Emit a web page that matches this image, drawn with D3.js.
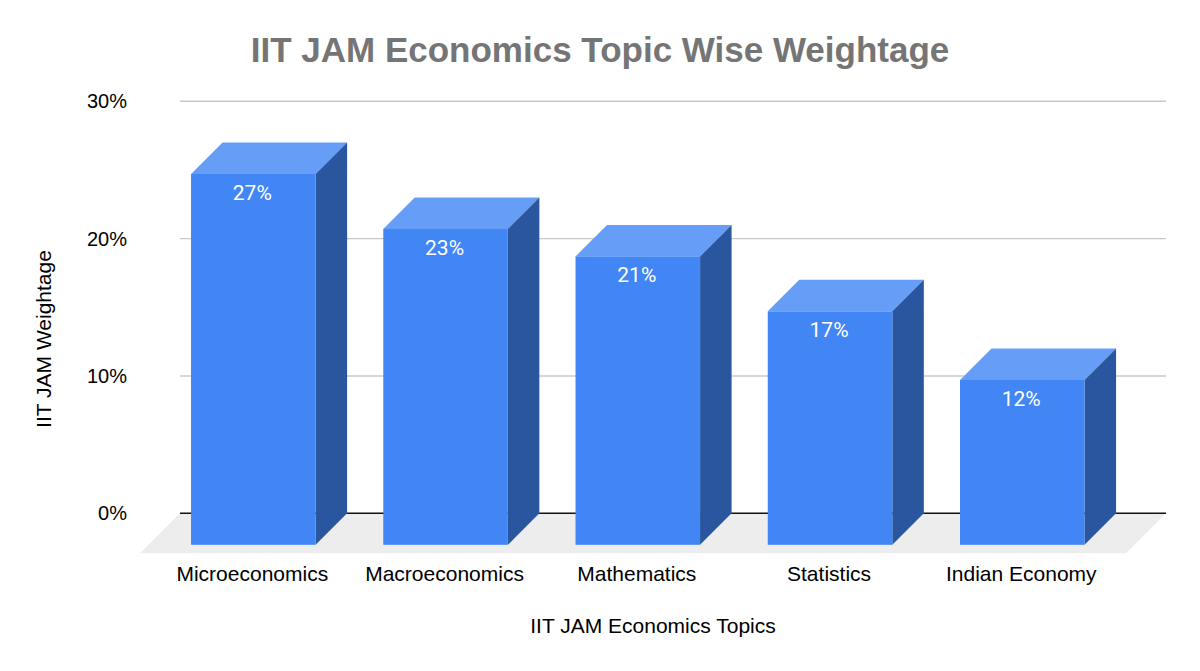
<!DOCTYPE html>
<html>
<head>
<meta charset="utf-8">
<script src="https://cdn.jsdelivr.net/npm/d3@7"></script>
<style>
  html, body { margin: 0; padding: 0; background: #fff; }
  svg { display: block; }
  text { font-family: "Liberation Sans", Arial, sans-serif; }
  .y-axis .domain, .x-axis .domain, .x-axis line, .y-axis line { display: none; }
</style>
</head>
<body>
<div id="chart"></div>
<script>
const topics = ["Microeconomics", "Macroeconomics", "Mathematics", "Statistics", "Indian Economy"];
const weightage = [27, 23, 21, 17, 12];
const yTicks = [0, 10, 20, 30];

const width = 1200, height = 671;
const depth = 31.5; // 3d offset of the bars and floor
const gridLeft = 180, gridRight = 1166;

const svg = d3.select("#chart").append("svg")
    .attr("width", width)
    .attr("height", height);

const x = d3.scaleBand()
    .domain(topics)
    .range([157.2, 1118.4])
    .paddingInner(0.352)
    .paddingOuter(0.176);

const y = d3.scaleLinear()
    .domain([0, 30])
    .range([513.3, 101.3]);

// floor
svg.append("polygon")
    .attr("fill", "#ededed")
    .attr("points", [
        [gridLeft, y(0)],
        [gridRight, y(0)],
        [gridRight - depth - 8.5, y(0) + depth + 8.5],
        [gridLeft - depth - 8.5, y(0) + depth + 8.5]
    ].join(" "));

// gridlines
svg.append("g").selectAll("line")
    .data(yTicks)
    .enter().append("line")
    .attr("x1", gridLeft)
    .attr("x2", gridRight)
    .attr("y1", d => y(d))
    .attr("y2", d => y(d))
    .attr("stroke", d => d === 0 ? "#111111" : "#c8c8c8")
    .attr("stroke-width", 1.4);

const yAxis = d3.axisLeft(y)
    .tickValues(yTicks)
    .tickSize(0)
    .tickPadding(0)
    .tickFormat(d => d + "%");

svg.append("g")
    .attr("class", "y-axis")
    .attr("transform", "translate(127,0)")
    .call(yAxis)
    .selectAll("text")
    .attr("font-size", 20)
    .style("font-family", '"Liberation Sans", Arial, sans-serif')
    .attr("fill", "#000000");

// bars: x/y are the back edge, the front face is shifted down-left by depth
const bars = svg.selectAll(".bar")
    .data(topics.map((t, i) => ({ topic: t, value: weightage[i] })))
    .enter().append("g")
    .attr("class", "bar");

const bw = x.bandwidth();

bars.append("path")
    .attr("fill", "#669df6")
    .attr("d", d => {
        const x0 = x(d.topic), top = y(d.value);
        return `M${x0},${top + depth}L${x0 + depth},${top}H${x0 + bw + depth}L${x0 + bw},${top + depth}Z`;
    });

bars.append("path")
    .attr("fill", "#2a569f")
    .attr("d", d => {
        const x0 = x(d.topic) + bw, top = y(d.value);
        return `M${x0},${top + depth}L${x0 + depth},${top}V${y(0)}L${x0},${y(0) + depth}Z`;
    });

bars.append("rect")
    .attr("fill", "#4285f4")
    .attr("x", d => x(d.topic))
    .attr("y", d => y(d.value) + depth)
    .attr("width", bw)
    .attr("height", d => y(0) - y(d.value));

bars.append("text")
    .attr("x", d => x(d.topic) + bw / 2 - 1)
    .attr("y", d => y(d.value) + depth + 26)
    .attr("text-anchor", "middle")
    .attr("fill", "#ffffff")
    .attr("font-size", 21)
    .style("font-family", "Roboto, sans-serif")
    .text(d => d.value + "%");

const xAxis = d3.axisBottom(x).tickSize(0).tickPadding(0);

svg.append("g")
    .attr("class", "x-axis")
    .attr("transform", "translate(-1,566)")
    .call(xAxis)
    .selectAll("text")
    .attr("font-size", 21)
    .style("font-family", '"Liberation Sans", Arial, sans-serif')
    .attr("fill", "#000000");

// titles
svg.append("text")
    .attr("x", 600)
    .attr("y", 62)
    .attr("text-anchor", "middle")
    .attr("font-size", 35)
    .attr("font-weight", "bold")
    .attr("fill", "#757575")
    .text("IIT JAM Economics Topic Wise Weightage");

svg.append("text")
    .attr("x", 653)
    .attr("y", 633)
    .attr("text-anchor", "middle")
    .attr("font-size", 21)
    .attr("fill", "#000000")
    .text("IIT JAM Economics Topics");

svg.append("text")
    .attr("transform", "translate(51,339) rotate(-90)")
    .attr("text-anchor", "middle")
    .attr("font-size", 21)
    .attr("fill", "#000000")
    .text("IIT JAM Weightage");
</script>
</body>
</html>
